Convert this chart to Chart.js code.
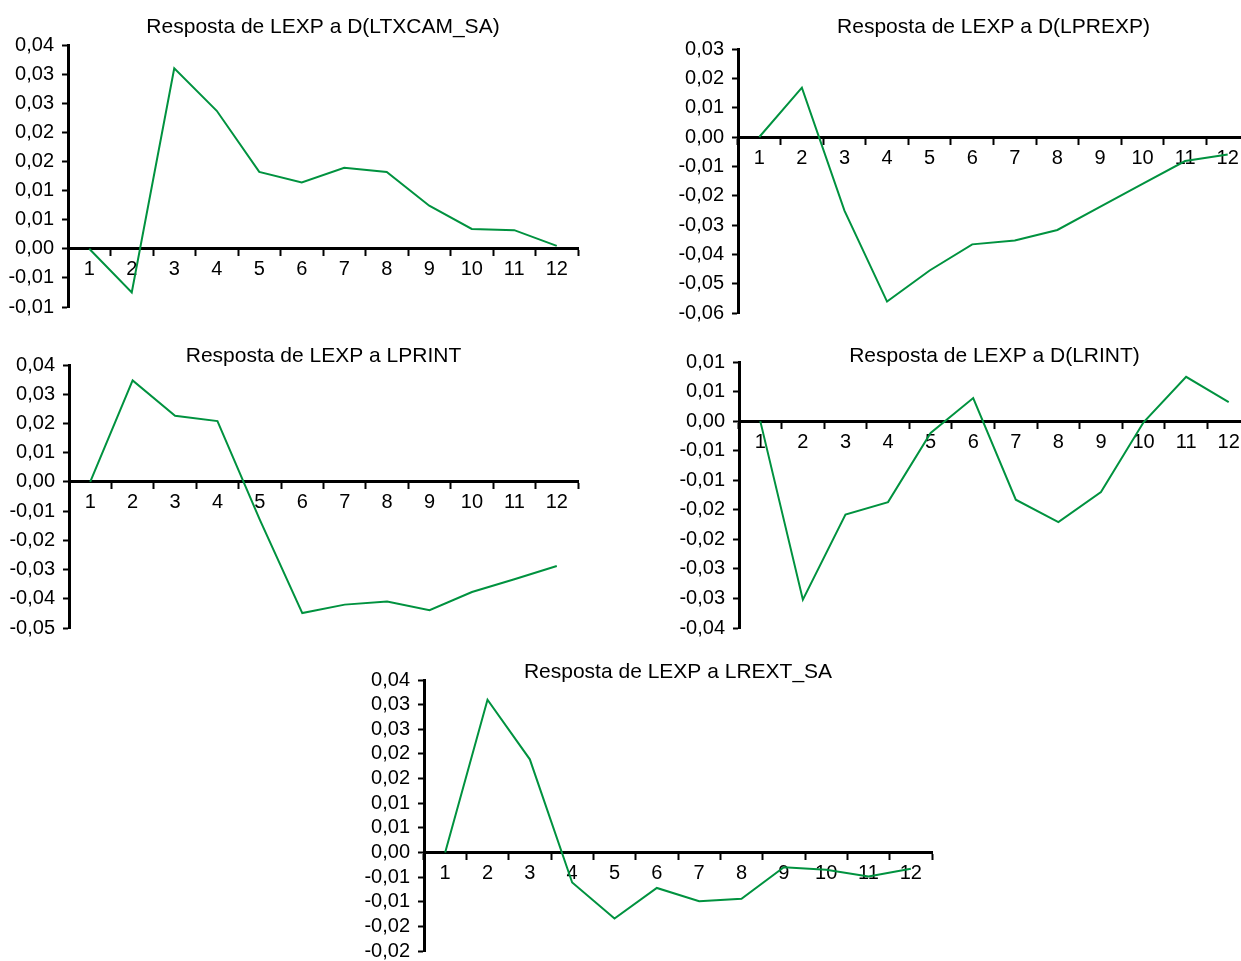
<!DOCTYPE html>
<html>
<head>
<meta charset="utf-8">
<title>Resposta de LEXP</title>
<script src="https://cdn.jsdelivr.net/npm/chart.js@4.4.1/dist/chart.umd.min.js"></script>
<style>
  html, body { margin: 0; padding: 0; background: #fff; overflow: hidden; }
  #page { position: relative; width: 1241px; height: 961px; overflow: hidden; }
  #page canvas { position: absolute; }
</style>
</head>
<body>
<div id="page"></div>
<script>
// Impulse responses of LEXP, periods 1..12
const periods = ["1", "2", "3", "4", "5", "6", "7", "8", "9", "10", "11", "12"];

const respLtxcam = [0, -0.0075, 0.031, 0.0237, 0.0132, 0.0114, 0.0139, 0.0132, 0.0074, 0.0034, 0.0032, 0.0005];
const respLprexp = [0, 0.0168, -0.0251, -0.0561, -0.0455, -0.0366, -0.0353, -0.0317, -0.0238, -0.016, -0.0082, -0.006];
const respLprint = [0, 0.0347, 0.0226, 0.0208, -0.013, -0.0449, -0.042, -0.0409, -0.0439, -0.0377, -0.0333, -0.0288];
const respLrint  = [0, -0.0302, -0.0158, -0.0137, -0.002, 0.0039, -0.0133, -0.0171, -0.012, -0.0002, 0.0075, 0.0032];
const respLrext  = [0, 0.031, 0.0189, -0.0061, -0.0134, -0.0072, -0.0099, -0.0094, -0.003, -0.0035, -0.0049, -0.0033];

// y tick values, top to bottom
const ticksLtxcam = [0.035, 0.03, 0.025, 0.02, 0.015, 0.01, 0.005, 0, -0.005, -0.01];
const ticksLprexp = [0.03, 0.02, 0.01, 0, -0.01, -0.02, -0.03, -0.04, -0.05, -0.06];
const ticksLprint = [0.04, 0.03, 0.02, 0.01, 0, -0.01, -0.02, -0.03, -0.04, -0.05];
const ticksLrint  = [0.01, 0.005, 0, -0.005, -0.01, -0.015, -0.02, -0.025, -0.03, -0.035];
const ticksLrext  = [0.035, 0.03, 0.025, 0.02, 0.015, 0.01, 0.005, 0, -0.005, -0.01, -0.015, -0.02];

const LINE = "rgb(0,146,63)";
const FONT = "'Liberation Sans', Arial, sans-serif";
const Y_AXIS_W = 70;

// two decimals, comma separator, halves rounded away from zero (like the source)
function fmt(v) {
    const r = Math.round(Math.abs(v) * 100 + 1e-9) / 100;
    const sign = v < 0 && r > 0 ? "-" : "";
    return sign + r.toFixed(2).replace(".", ",");
}

function makePanel(p) {
    const canvas = document.createElement("canvas");
    const left = p.axisX - Y_AXIS_W;
    const width = p.plotRight - left + 12;
    const height = p.plotBottom - p.top + 24;
    canvas.width = width;
    canvas.height = height;
    canvas.style.left = left + "px";
    canvas.style.top = p.top + "px";
    document.getElementById("page").appendChild(canvas);

    // title text sits ~2px high in its box, so push it down a little
    const titleTop = p.titleY - p.top - 8;

    new Chart(canvas.getContext("2d"), {
        type: "line",
        data: {
            labels: periods,
            datasets: [{
                data: p.values,
                borderColor: LINE,
                borderWidth: 2,
                pointRadius: 0,
                tension: 0,
                fill: false,
            }],
        },
        options: {
            responsive: false,
            animation: false,
            events: [],
            layout: { padding: { top: titleTop, right: 12, bottom: 24, left: 0 } },
            plugins: {
                legend: { display: false },
                tooltip: { enabled: false },
                title: {
                    display: true,
                    text: p.title,
                    fullSize: false,
                    color: "#000",
                    font: { family: FONT, size: 21, weight: "normal", lineHeight: 20 / 21 },
                    padding: { top: 0, bottom: p.plotTop - p.top - titleTop - 20 },
                },
            },
            scales: {
                x: {
                    type: "category",
                    position: { y: 0 },
                    offset: true,
                    afterFit: (s) => { s.height = 0; },
                    border: { display: true, color: "#000", width: 3 },
                    grid: {
                        offset: true,
                        drawOnChartArea: false,
                        drawTicks: true,
                        tickLength: 6,
                        tickWidth: 2,
                        tickColor: "#000",
                    },
                    ticks: {
                        color: "#000",
                        padding: 3,
                        maxRotation: 0,
                        autoSkip: false,
                        font: { family: FONT, size: 20 },
                    },
                },
                y: {
                    min: p.ticks[p.ticks.length - 1],
                    max: p.ticks[0],
                    afterFit: (s) => { s.width = Y_AXIS_W; },
                    afterBuildTicks: (s) => { s.ticks = p.ticks.map((value) => ({ value })); },
                    border: { display: true, color: "#000", width: 3 },
                    grid: {
                        drawOnChartArea: false,
                        drawTicks: true,
                        tickLength: 6,
                        tickWidth: 2,
                        tickColor: "#000",
                    },
                    ticks: {
                        color: "#000",
                        padding: 8,
                        autoSkip: false,
                        font: { family: FONT, size: 20 },
                        callback: (v) => fmt(v),
                    },
                },
            },
        },
    });
}

makePanel({ title: "Resposta de LEXP a D(LTXCAM_SA)", values: respLtxcam, ticks: ticksLtxcam,
            top: 0, axisX: 68, plotRight: 578, titleY: 25, plotTop: 45, plotBottom: 307 });
makePanel({ title: "Resposta de LEXP a D(LPREXP)", values: respLprexp, ticks: ticksLprexp,
            top: 0, axisX: 738, plotRight: 1249, titleY: 25, plotTop: 49, plotBottom: 313 });
makePanel({ title: "Resposta de LEXP a LPRINT", values: respLprint, ticks: ticksLprint,
            top: 330, axisX: 69, plotRight: 578, titleY: 354, plotTop: 365, plotBottom: 628 });
makePanel({ title: "Resposta de LEXP a D(LRINT)", values: respLrint, ticks: ticksLrint,
            top: 330, axisX: 739, plotRight: 1250, titleY: 354, plotTop: 362, plotBottom: 628 });
makePanel({ title: "Resposta de LEXP a LREXT_SA", values: respLrext, ticks: ticksLrext,
            top: 645, axisX: 424, plotRight: 932, titleY: 670, plotTop: 680, plotBottom: 951 });
</script>
</body>
</html>
